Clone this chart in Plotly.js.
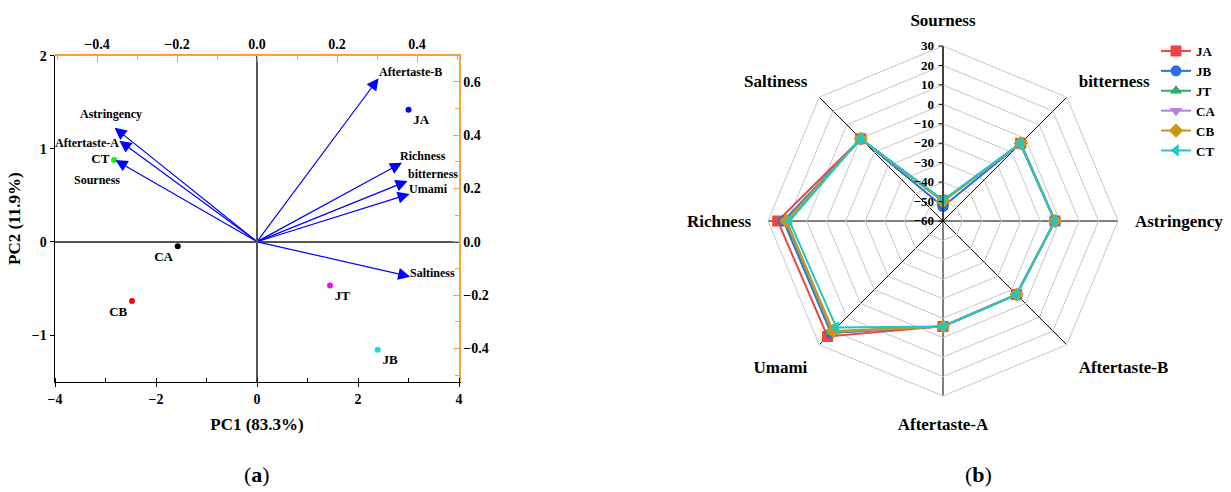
<!DOCTYPE html>
<html>
<head>
<meta charset="utf-8">
<script src="https://cdn.plot.ly/plotly-3.0.1.min.js"></script>
<style>
html,body{margin:0;padding:0;background:#fff;}
#chart{width:1231px;height:492px;}
</style>
</head>
<body>
<div id="chart"></div>
<script>
// ---------- (a) PCA biplot data ----------
const samples = ['JA', 'JB', 'JT', 'CA', 'CB', 'CT'];
const pc1Scores = [3.00, 2.39, 1.445, -1.57, -2.475, -2.83];
const pc2Scores = [1.42, -1.157, -0.466, -0.046, -0.634, 0.88];

const attributes = ['Aftertaste-B', 'Astringency', 'Aftertaste-A', 'Sourness', 'Richness', 'bitterness', 'Umami', 'Saltiness'];
const loadingPC1 = [0.304, -0.356, -0.344, -0.354, 0.3625, 0.3765, 0.3815, 0.383];
const loadingPC2 = [0.613, 0.4275, 0.379, 0.306, 0.296, 0.2276, 0.179, -0.131];

// ---------- (b) radar data ----------
const tasteAxes = ['Sourness', 'bitterness', 'Astringency', 'Aftertaste-B', 'Aftertaste-A', 'Umami', 'Richness', 'Saltiness'];
const radarJA = [-49.5, -3.5, -2.4, -6.5, -5.8, 24.0, 25.0, -0.2];
const radarJB = [-52.5, -3.8, -2.5, -6.6, -5.9, 21.5, 22.0, -0.4];
const radarJT = [-50.0, -3.6, -2.4, -6.5, -5.8, 21.0, 21.0, -0.2];
const radarCA = [-49.5, -3.4, -2.4, -6.5, -5.8, 20.5, 20.5, -0.1];
const radarCB = [-49.8, -3.5, -2.4, -6.5, -5.8, 20.0, 20.5, -0.1];
const radarCT = [-49.2, -3.4, -2.4, -6.4, -5.7, 17.5, 19.0, 0.0];

// ---------- styles ----------
const serif = 'Liberation Serif, Times New Roman, serif';
const orange = '#F7A13E';
const pointColors = ['#0000FF', '#00E5EE', '#FF00FF', '#000000', '#FF0000', '#00FF00'];
const pointTextPos = ['bottom right', 'bottom right', 'bottom right', 'bottom left', 'bottom left', 'middle left'];
const labelAnchor = ['left', 'center', 'right', 'center', 'center', 'center', 'center', 'center'];
const labelDX = [-2, -4, 2, -18, 21, 25, 19, 22];
const labelDY = [6, 14, -2, -20, 7, 7, 5, 4];

const radarSeries = [
  {name: 'JA', r: radarJA, color: '#EE4444', symbol: 'square'},
  {name: 'JB', r: radarJB, color: '#2A70DD', symbol: 'circle'},
  {name: 'JT', r: radarJT, color: '#33AA66', symbol: 'triangle-up'},
  {name: 'CA', r: radarCA, color: '#B77FE0', symbol: 'triangle-down'},
  {name: 'CB', r: radarCB, color: '#CC9611', symbol: 'diamond'},
  {name: 'CT', r: radarCT, color: '#1EC8C8', symbol: 'triangle-left'}
];

const traces = [];

// score points
traces.push({
  type: 'scatter', mode: 'markers+text',
  x: pc1Scores, y: pc2Scores, text: samples,
  textposition: pointTextPos,
  textfont: {family: serif, size: 13, color: '#000', weight: 'bold'},
  marker: {color: pointColors, size: 6},
  xaxis: 'x', yaxis: 'y', showlegend: false, hoverinfo: 'skip', cliponaxis: false
});
// invisible trace to activate secondary axes
traces.push({
  type: 'scatter', mode: 'markers',
  x: loadingPC1, y: loadingPC2,
  marker: {opacity: 0}, xaxis: 'x2', yaxis: 'y2', showlegend: false, hoverinfo: 'skip'
});

// radar traces
radarSeries.forEach(s => {
  traces.push({
    type: 'scatterpolar', mode: 'lines+markers',
    name: s.name,
    r: s.r.concat([s.r[0]]),
    theta: tasteAxes.concat([tasteAxes[0]]),
    line: {color: s.color, width: 2},
    marker: {color: s.color, symbol: s.symbol, size: 11, opacity: 1},
    cliponaxis: true,
    subplot: 'polar'
  });
});

const annotations = [];
attributes.forEach((a, i) => {
  annotations.push({
    xref: 'x2', yref: 'y2', axref: 'x2', ayref: 'y2',
    x: loadingPC1[i], y: loadingPC2[i], ax: 0, ay: 0,
    text: '', showarrow: true, arrowhead: 2, arrowsize: 2, arrowwidth: 1.2,
    arrowcolor: '#0000FF', standoff: 0, startstandoff: 0
  });
  annotations.push({
    xref: 'x2', yref: 'y2', x: loadingPC1[i], y: loadingPC2[i],
    text: a, showarrow: false, xanchor: labelAnchor[i], yanchor: 'middle',
    xshift: labelDX[i], yshift: labelDY[i],
    font: {family: serif, size: 12, color: '#000', weight: 'bold'}
  });
});
annotations.push({
  xref: 'paper', yref: 'paper', x: 257 / 1231, y: 1 - 474 / 492,
  xanchor: 'center', yanchor: 'middle',
  text: '(<b>a</b>)', showarrow: false, font: {family: serif, size: 22, color: '#000'}
});
annotations.push({
  xref: 'paper', yref: 'paper', x: 978 / 1231, y: 1 - 474 / 492,
  xanchor: 'center', yanchor: 'middle',
  text: '(<b>b</b>)', showarrow: false, font: {family: serif, size: 22, color: '#000'}
});

const tickFont = {family: serif, size: 14, color: '#000', weight: 'bold'};
const titleFont = {family: serif, size: 17, color: '#000', weight: 'bold'};

const layout = {
  width: 1231, height: 492,
  margin: {l: 0, r: 0, t: 0, b: 0},
  paper_bgcolor: '#fff', plot_bgcolor: '#fff',
  showlegend: true,
  legend: {
    x: 1156 / 1231, y: 1 - 36 / 492, xanchor: 'left', yanchor: 'top',
    font: {family: serif, size: 13, color: '#000', weight: 'bold'},
    bgcolor: 'rgba(0,0,0,0)', tracegroupgap: 0, itemwidth: 30
  },
  xaxis: {
    domain: [55 / 1231, 459 / 1231], anchor: 'y',
    range: [-4, 4], dtick: 2, tick0: 0,
    showline: true, linecolor: '#000', linewidth: 1.5,
    ticks: 'outside', ticklen: 4, tickcolor: '#000',
    minor: {dtick: 1, ticks: 'inside', ticklen: 4, tickcolor: '#000', showgrid: false},
    showgrid: false, zeroline: true, zerolinecolor: '#555', zerolinewidth: 2,
    tickfont: tickFont,
    title: {text: 'PC1 (83.3%)', font: titleFont, standoff: 12}
  },
  yaxis: {
    domain: [1 - 381.7 / 492, 1 - 55.7 / 492], anchor: 'x',
    range: [-1.5, 2], dtick: 1, tick0: 0,
    showline: true, linecolor: '#000', linewidth: 1.5,
    ticks: 'outside', ticklen: 4, tickcolor: '#000',
    showgrid: false, zeroline: true, zerolinecolor: '#555', zerolinewidth: 2,
    tickfont: tickFont,
    title: {text: 'PC2 (11.9%)', font: titleFont, standoff: 7}
  },
  xaxis2: {
    overlaying: 'x', side: 'top', anchor: 'y',
    range: [-0.505, 0.505], dtick: 0.2, tick0: 0, tickformat: '.1f',
    showline: true, linecolor: orange, linewidth: 1.5,
    ticks: 'inside', ticklen: 6, tickcolor: orange,
    minor: {dtick: 0.1, ticks: 'inside', ticklen: 4, tickcolor: orange, showgrid: false},
    showgrid: false, zeroline: false, tickfont: tickFont
  },
  yaxis2: {
    overlaying: 'y', side: 'right', anchor: 'x',
    range: [-0.525, 0.6975], dtick: 0.2, tick0: 0, tickformat: '.1f',
    showline: true, linecolor: orange, linewidth: 1.5,
    ticks: 'inside', ticklen: 6, tickcolor: orange,
    minor: {dtick: 0.1, ticks: 'inside', ticklen: 4, tickcolor: orange, showgrid: false},
    showgrid: false, zeroline: false, tickfont: tickFont
  },
  polar: {
    domain: {x: [(943 - 175) / 1231, (943 + 175) / 1231], y: [1 - (221 + 175) / 492, 1 - (221 - 175) / 492]},
    bgcolor: '#fff',
    gridshape: 'linear',
    radialaxis: {
      range: [-60, 30], dtick: 10, tick0: 0, angle: 90, tickangle: 90,
      side: 'counterclockwise',
      showline: true, linecolor: '#000', linewidth: 1,
      ticks: 'outside', ticklen: 4, tickcolor: '#000',
      gridcolor: '#C8C8C8', gridwidth: 1,
      tickfont: {family: serif, size: 13, color: '#000', weight: 'bold'}
    },
    angularaxis: {
      direction: 'clockwise', rotation: 90,
      showline: true, linecolor: '#C8C8C8', linewidth: 1,
      gridcolor: '#000', gridwidth: 1,
      ticks: 'outside', ticklen: 13, tickcolor: 'rgba(0,0,0,0)',
      tickfont: {family: serif, size: 17, color: '#000', weight: 'bold'}
    }
  },
  annotations: annotations
};

Plotly.newPlot('chart', traces, layout, {displayModeBar: false, staticPlot: true});
</script>
</body>
</html>
